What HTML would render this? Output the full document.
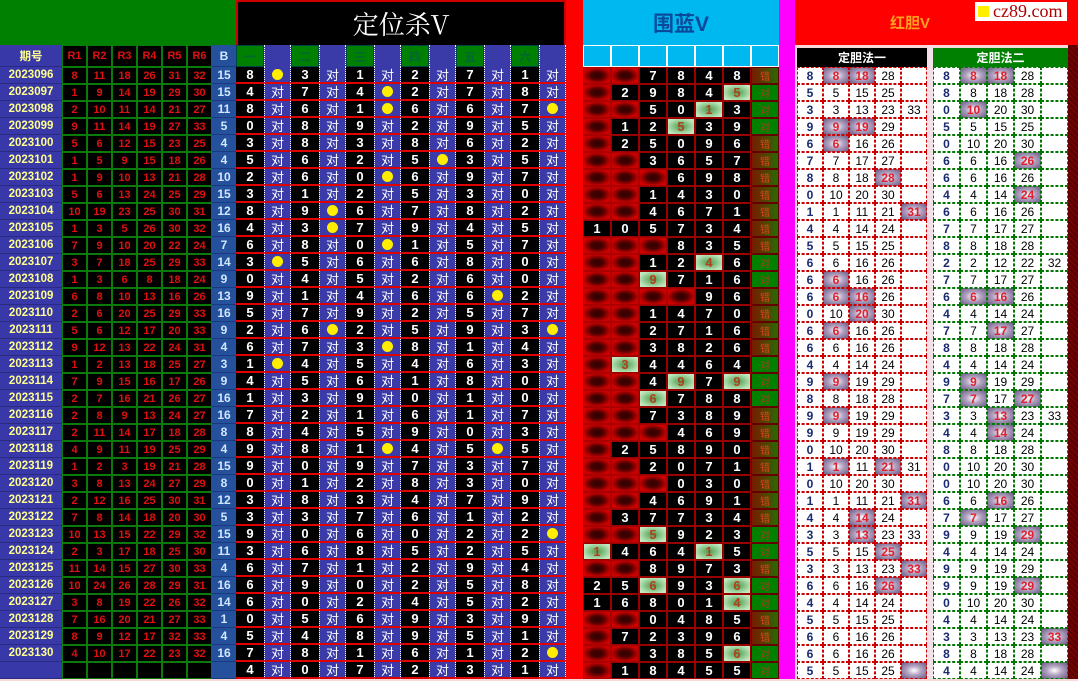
<!DOCTYPE html>
<html><head><meta charset="utf-8"><style>
html,body{margin:0;padding:0;width:1078px;height:681px;overflow:hidden;background:#f8d8d8}
.G{display:grid;grid-template-columns:62px repeat(6,25px) 24px repeat(6,28px 27px) 17px repeat(7,28px) 16px 2px repeat(5,26px) 6px repeat(5,27px) 10px;grid-template-rows:45px 22px repeat(36,17px);width:1078px;height:681px}
i{display:flex;align-items:center;justify-content:center;font-style:normal;box-sizing:border-box;overflow:hidden;font:bold 12px "Liberation Sans","Noto Sans CJK SC",sans-serif;white-space:nowrap}
.q{background:#3838a8;color:#ffff90;font-size:11.5px;border-bottom:1px solid #2a2a80}
.r{background:#000;color:#e01010;border:1px solid #0a7a0a;font-size:11px}
.b{background:#24509c;color:#d0e8ff;font-size:12px;border-bottom:1px solid #1a3a80}
.d{background:#000;color:#fff;border-bottom:2px solid #e00000;font-size:13px}
.t{background:#3a3aa8;color:#fff;font-weight:normal;border-bottom:2px solid #e00000;border-left:1px dotted #fff;border-right:1px dotted #fff;font-size:13px}
.o{background:#3a3aa8;border-bottom:2px solid #e00000;border-left:1px dotted #fff;border-right:1px dotted #fff}
.o:after{content:"";width:11px;height:11px;border-radius:50%;background:#ffee00}
.x{background:#f00}
.w{background:radial-gradient(ellipse at center,#300 0,#400 30%,#c00 75%);border:1px solid #a00}
.n{background:#000;color:#fff;border:1px solid #900;font-size:13px}
.g{background:radial-gradient(ellipse at center,#4a9a4a 0,#bfe8bf 80%);color:#b04020;border:1px solid #900;font-size:13px}
.v{background:#008000;color:#c03020;font-weight:normal;font-size:10px;border:1px solid #600}
.u{background:#802000;color:#e04020;font-weight:normal;font-size:10px;border:1px solid #600;background:linear-gradient(90deg,#7a1a00,#2a6a00)}
.m{background:#ff00ff}
.s{background:#f0d0e0}
.p{background:#fff;color:#1a2a70;border:1px dashed #c00;font-size:12px}
.c{background:#fff;color:#000;font-weight:normal;border:1px dashed #c00;font-size:12px}
.h{background:radial-gradient(ellipse at center,#fff 0,#b0a0c0 45%,#7a6a90 90%);color:#e02030;border:1px dashed #c00}
.P{background:#fff;color:#1a2a70;border:1px dashed #070;font-size:12px}
.C{background:#fff;color:#000;font-weight:normal;border:1px dashed #070;font-size:12px}
.H{background:radial-gradient(ellipse at center,#fff 0,#b0a0c0 45%,#7a6a90 90%);color:#e02030;border:1px dashed #070}
.e{background:#f4e0e8}
.z{background:repeating-linear-gradient(45deg,#700 0 2px,#500 2px 4px)}
.k1{background:#008000;color:#063;border:1px solid #044}
.k2{background:#3a3aa8;border-left:1px dotted #fff;border-right:1px dotted #fff}
.cy{background:#00b8f0;border:1px solid #fff}
.logo{position:absolute;left:975px;top:2px;width:92px;height:19px;background:#fff;display:flex;align-items:center;font:18px "Liberation Serif",serif;color:#b00000}
.logo span{display:inline-block;width:11px;height:11px;background:#ffee00;margin:0 4px 0 3px}
</style></head><body>
<div class="G">
<i style="grid-column:1/9;background:#008000"></i>
<i style="grid-column:9/21;background:#000;color:#fff;font:26px 'Noto Serif CJK SC','Liberation Serif',serif;border:2px solid #c00;border-bottom:0">定位杀V</i>
<i class="x"></i>
<i style="grid-column:22/29;background:#00b8f0;color:#0a4a9a;font-size:21px">围蓝V</i>
<i class="m"></i>
<i style="grid-column:30/43;background:#f00;color:#ffa020;font-size:15px;padding-left:20px;justify-content:flex-start;padding-left:95px">红胆V</i>

<i class="q">期号</i><i class="r">R1</i><i class="r">R2</i><i class="r">R3</i><i class="r">R4</i><i class="r">R5</i><i class="r">R6</i><i class="b">B</i>
<i class="k1">一</i><i class="k2"></i><i class="k1">二</i><i class="k2"></i><i class="k1">三</i><i class="k2"></i><i class="k1">四</i><i class="k2"></i><i class="k1">五</i><i class="k2"></i><i class="k1">六</i><i class="k2"></i>
<i class="x"></i><i class="cy"></i><i class="cy"></i><i class="cy"></i><i class="cy"></i><i class="cy"></i><i class="cy"></i><i class="cy"></i><i class="m"></i><i class="s"></i>
<i style="grid-column:31/36;background:#000;color:#fff;font-size:12px;margin-top:3px">定胆法一</i><i class="e"></i>
<i style="grid-column:37/42;background:#008000;color:#fff;font-size:12px;margin-top:3px">定胆法二</i><i class="z"></i>

<i class="q">2023096</i><i class="r">8</i><i class="r">11</i><i class="r">18</i><i class="r">26</i><i class="r">31</i><i class="r">32</i><i class="b">15</i><i class="d">8</i><i class="o"></i><i class="d">3</i><i class="t">对</i><i class="d">1</i><i class="t">对</i><i class="d">2</i><i class="t">对</i><i class="d">7</i><i class="t">对</i><i class="d">1</i><i class="t">对</i><i class="x"></i><i class="w"></i><i class="w"></i><i class="n">7</i><i class="n">8</i><i class="n">4</i><i class="n">8</i><i class="u">错</i><i class="m"></i><i class="s"></i><i class="p">8</i><i class="h">8</i><i class="h">18</i><i class="c">28</i><i class="c"></i><i class="e"></i><i class="P">8</i><i class="H">8</i><i class="H">18</i><i class="C">28</i><i class="C"></i><i class="z"></i>
<i class="q">2023097</i><i class="r">1</i><i class="r">9</i><i class="r">14</i><i class="r">19</i><i class="r">29</i><i class="r">30</i><i class="b">15</i><i class="d">4</i><i class="t">对</i><i class="d">7</i><i class="t">对</i><i class="d">4</i><i class="o"></i><i class="d">2</i><i class="t">对</i><i class="d">7</i><i class="t">对</i><i class="d">8</i><i class="t">对</i><i class="x"></i><i class="w"></i><i class="n">2</i><i class="n">9</i><i class="n">8</i><i class="n">4</i><i class="g">5</i><i class="v">对</i><i class="m"></i><i class="s"></i><i class="p">5</i><i class="c">5</i><i class="c">15</i><i class="c">25</i><i class="c"></i><i class="e"></i><i class="P">8</i><i class="C">8</i><i class="C">18</i><i class="C">28</i><i class="C"></i><i class="z"></i>
<i class="q">2023098</i><i class="r">2</i><i class="r">10</i><i class="r">11</i><i class="r">14</i><i class="r">21</i><i class="r">27</i><i class="b">11</i><i class="d">8</i><i class="t">对</i><i class="d">6</i><i class="t">对</i><i class="d">1</i><i class="o"></i><i class="d">6</i><i class="t">对</i><i class="d">6</i><i class="t">对</i><i class="d">7</i><i class="o"></i><i class="x"></i><i class="w"></i><i class="w"></i><i class="n">5</i><i class="n">0</i><i class="g">1</i><i class="n">3</i><i class="v">对</i><i class="m"></i><i class="s"></i><i class="p">3</i><i class="c">3</i><i class="c">13</i><i class="c">23</i><i class="c">33</i><i class="e"></i><i class="P">0</i><i class="H">10</i><i class="C">20</i><i class="C">30</i><i class="C"></i><i class="z"></i>
<i class="q">2023099</i><i class="r">9</i><i class="r">11</i><i class="r">14</i><i class="r">19</i><i class="r">27</i><i class="r">33</i><i class="b">5</i><i class="d">0</i><i class="t">对</i><i class="d">8</i><i class="t">对</i><i class="d">9</i><i class="t">对</i><i class="d">2</i><i class="t">对</i><i class="d">9</i><i class="t">对</i><i class="d">5</i><i class="t">对</i><i class="x"></i><i class="w"></i><i class="n">1</i><i class="n">2</i><i class="g">5</i><i class="n">3</i><i class="n">9</i><i class="v">对</i><i class="m"></i><i class="s"></i><i class="p">9</i><i class="h">9</i><i class="h">19</i><i class="c">29</i><i class="c"></i><i class="e"></i><i class="P">5</i><i class="C">5</i><i class="C">15</i><i class="C">25</i><i class="C"></i><i class="z"></i>
<i class="q">2023100</i><i class="r">5</i><i class="r">6</i><i class="r">12</i><i class="r">15</i><i class="r">23</i><i class="r">25</i><i class="b">4</i><i class="d">3</i><i class="t">对</i><i class="d">8</i><i class="t">对</i><i class="d">3</i><i class="t">对</i><i class="d">8</i><i class="t">对</i><i class="d">6</i><i class="t">对</i><i class="d">2</i><i class="t">对</i><i class="x"></i><i class="w"></i><i class="n">2</i><i class="n">5</i><i class="n">0</i><i class="n">9</i><i class="n">6</i><i class="u">错</i><i class="m"></i><i class="s"></i><i class="p">6</i><i class="h">6</i><i class="c">16</i><i class="c">26</i><i class="c"></i><i class="e"></i><i class="P">0</i><i class="C">10</i><i class="C">20</i><i class="C">30</i><i class="C"></i><i class="z"></i>
<i class="q">2023101</i><i class="r">1</i><i class="r">5</i><i class="r">9</i><i class="r">15</i><i class="r">18</i><i class="r">26</i><i class="b">4</i><i class="d">5</i><i class="t">对</i><i class="d">6</i><i class="t">对</i><i class="d">2</i><i class="t">对</i><i class="d">5</i><i class="o"></i><i class="d">3</i><i class="t">对</i><i class="d">5</i><i class="t">对</i><i class="x"></i><i class="w"></i><i class="w"></i><i class="n">3</i><i class="n">6</i><i class="n">5</i><i class="n">7</i><i class="u">错</i><i class="m"></i><i class="s"></i><i class="p">7</i><i class="c">7</i><i class="c">17</i><i class="c">27</i><i class="c"></i><i class="e"></i><i class="P">6</i><i class="C">6</i><i class="C">16</i><i class="H">26</i><i class="C"></i><i class="z"></i>
<i class="q">2023102</i><i class="r">1</i><i class="r">9</i><i class="r">10</i><i class="r">13</i><i class="r">21</i><i class="r">28</i><i class="b">10</i><i class="d">2</i><i class="t">对</i><i class="d">6</i><i class="t">对</i><i class="d">0</i><i class="o"></i><i class="d">6</i><i class="t">对</i><i class="d">9</i><i class="t">对</i><i class="d">7</i><i class="t">对</i><i class="x"></i><i class="w"></i><i class="w"></i><i class="w"></i><i class="n">6</i><i class="n">9</i><i class="n">8</i><i class="u">错</i><i class="m"></i><i class="s"></i><i class="p">8</i><i class="c">8</i><i class="c">18</i><i class="h">28</i><i class="c"></i><i class="e"></i><i class="P">6</i><i class="C">6</i><i class="C">16</i><i class="C">26</i><i class="C"></i><i class="z"></i>
<i class="q">2023103</i><i class="r">5</i><i class="r">6</i><i class="r">13</i><i class="r">24</i><i class="r">25</i><i class="r">29</i><i class="b">15</i><i class="d">3</i><i class="t">对</i><i class="d">1</i><i class="t">对</i><i class="d">2</i><i class="t">对</i><i class="d">5</i><i class="t">对</i><i class="d">3</i><i class="t">对</i><i class="d">0</i><i class="t">对</i><i class="x"></i><i class="w"></i><i class="w"></i><i class="n">1</i><i class="n">4</i><i class="n">3</i><i class="n">0</i><i class="u">错</i><i class="m"></i><i class="s"></i><i class="p">0</i><i class="c">10</i><i class="c">20</i><i class="c">30</i><i class="c"></i><i class="e"></i><i class="P">4</i><i class="C">4</i><i class="C">14</i><i class="H">24</i><i class="C"></i><i class="z"></i>
<i class="q">2023104</i><i class="r">10</i><i class="r">19</i><i class="r">23</i><i class="r">25</i><i class="r">30</i><i class="r">31</i><i class="b">12</i><i class="d">8</i><i class="t">对</i><i class="d">9</i><i class="o"></i><i class="d">6</i><i class="t">对</i><i class="d">7</i><i class="t">对</i><i class="d">8</i><i class="t">对</i><i class="d">2</i><i class="t">对</i><i class="x"></i><i class="w"></i><i class="w"></i><i class="n">4</i><i class="n">6</i><i class="n">7</i><i class="n">1</i><i class="u">错</i><i class="m"></i><i class="s"></i><i class="p">1</i><i class="c">1</i><i class="c">11</i><i class="c">21</i><i class="h">31</i><i class="e"></i><i class="P">6</i><i class="C">6</i><i class="C">16</i><i class="C">26</i><i class="C"></i><i class="z"></i>
<i class="q">2023105</i><i class="r">1</i><i class="r">3</i><i class="r">5</i><i class="r">26</i><i class="r">30</i><i class="r">32</i><i class="b">16</i><i class="d">4</i><i class="t">对</i><i class="d">3</i><i class="o"></i><i class="d">7</i><i class="t">对</i><i class="d">9</i><i class="t">对</i><i class="d">4</i><i class="t">对</i><i class="d">5</i><i class="t">对</i><i class="x"></i><i class="n">1</i><i class="n">0</i><i class="n">5</i><i class="n">7</i><i class="n">3</i><i class="n">4</i><i class="u">错</i><i class="m"></i><i class="s"></i><i class="p">4</i><i class="c">4</i><i class="c">14</i><i class="c">24</i><i class="c"></i><i class="e"></i><i class="P">7</i><i class="C">7</i><i class="C">17</i><i class="C">27</i><i class="C"></i><i class="z"></i>
<i class="q">2023106</i><i class="r">7</i><i class="r">9</i><i class="r">10</i><i class="r">20</i><i class="r">22</i><i class="r">24</i><i class="b">7</i><i class="d">6</i><i class="t">对</i><i class="d">8</i><i class="t">对</i><i class="d">0</i><i class="o"></i><i class="d">1</i><i class="t">对</i><i class="d">5</i><i class="t">对</i><i class="d">7</i><i class="t">对</i><i class="x"></i><i class="w"></i><i class="w"></i><i class="w"></i><i class="n">8</i><i class="n">3</i><i class="n">5</i><i class="u">错</i><i class="m"></i><i class="s"></i><i class="p">5</i><i class="c">5</i><i class="c">15</i><i class="c">25</i><i class="c"></i><i class="e"></i><i class="P">8</i><i class="C">8</i><i class="C">18</i><i class="C">28</i><i class="C"></i><i class="z"></i>
<i class="q">2023107</i><i class="r">3</i><i class="r">7</i><i class="r">18</i><i class="r">25</i><i class="r">29</i><i class="r">33</i><i class="b">14</i><i class="d">3</i><i class="o"></i><i class="d">5</i><i class="t">对</i><i class="d">6</i><i class="t">对</i><i class="d">6</i><i class="t">对</i><i class="d">8</i><i class="t">对</i><i class="d">0</i><i class="t">对</i><i class="x"></i><i class="w"></i><i class="w"></i><i class="n">1</i><i class="n">2</i><i class="g">4</i><i class="n">6</i><i class="v">对</i><i class="m"></i><i class="s"></i><i class="p">6</i><i class="c">6</i><i class="c">16</i><i class="c">26</i><i class="c"></i><i class="e"></i><i class="P">2</i><i class="C">2</i><i class="C">12</i><i class="C">22</i><i class="C">32</i><i class="z"></i>
<i class="q">2023108</i><i class="r">1</i><i class="r">3</i><i class="r">6</i><i class="r">8</i><i class="r">18</i><i class="r">24</i><i class="b">9</i><i class="d">0</i><i class="t">对</i><i class="d">4</i><i class="t">对</i><i class="d">5</i><i class="t">对</i><i class="d">2</i><i class="t">对</i><i class="d">6</i><i class="t">对</i><i class="d">0</i><i class="t">对</i><i class="x"></i><i class="w"></i><i class="w"></i><i class="g">9</i><i class="n">7</i><i class="n">1</i><i class="n">6</i><i class="v">对</i><i class="m"></i><i class="s"></i><i class="p">6</i><i class="h">6</i><i class="c">16</i><i class="c">26</i><i class="c"></i><i class="e"></i><i class="P">7</i><i class="C">7</i><i class="C">17</i><i class="C">27</i><i class="C"></i><i class="z"></i>
<i class="q">2023109</i><i class="r">6</i><i class="r">8</i><i class="r">10</i><i class="r">13</i><i class="r">16</i><i class="r">26</i><i class="b">13</i><i class="d">9</i><i class="t">对</i><i class="d">1</i><i class="t">对</i><i class="d">4</i><i class="t">对</i><i class="d">6</i><i class="t">对</i><i class="d">6</i><i class="o"></i><i class="d">2</i><i class="t">对</i><i class="x"></i><i class="w"></i><i class="w"></i><i class="w"></i><i class="w"></i><i class="n">9</i><i class="n">6</i><i class="u">错</i><i class="m"></i><i class="s"></i><i class="p">6</i><i class="h">6</i><i class="h">16</i><i class="c">26</i><i class="c"></i><i class="e"></i><i class="P">6</i><i class="H">6</i><i class="H">16</i><i class="C">26</i><i class="C"></i><i class="z"></i>
<i class="q">2023110</i><i class="r">2</i><i class="r">6</i><i class="r">20</i><i class="r">25</i><i class="r">29</i><i class="r">33</i><i class="b">16</i><i class="d">5</i><i class="t">对</i><i class="d">7</i><i class="t">对</i><i class="d">9</i><i class="t">对</i><i class="d">2</i><i class="t">对</i><i class="d">5</i><i class="t">对</i><i class="d">7</i><i class="t">对</i><i class="x"></i><i class="w"></i><i class="w"></i><i class="n">1</i><i class="n">4</i><i class="n">7</i><i class="n">0</i><i class="u">错</i><i class="m"></i><i class="s"></i><i class="p">0</i><i class="c">10</i><i class="h">20</i><i class="c">30</i><i class="c"></i><i class="e"></i><i class="P">4</i><i class="C">4</i><i class="C">14</i><i class="C">24</i><i class="C"></i><i class="z"></i>
<i class="q">2023111</i><i class="r">5</i><i class="r">6</i><i class="r">12</i><i class="r">17</i><i class="r">20</i><i class="r">33</i><i class="b">9</i><i class="d">2</i><i class="t">对</i><i class="d">6</i><i class="o"></i><i class="d">2</i><i class="t">对</i><i class="d">5</i><i class="t">对</i><i class="d">9</i><i class="t">对</i><i class="d">3</i><i class="o"></i><i class="x"></i><i class="w"></i><i class="w"></i><i class="n">2</i><i class="n">7</i><i class="n">1</i><i class="n">6</i><i class="u">错</i><i class="m"></i><i class="s"></i><i class="p">6</i><i class="h">6</i><i class="c">16</i><i class="c">26</i><i class="c"></i><i class="e"></i><i class="P">7</i><i class="C">7</i><i class="H">17</i><i class="C">27</i><i class="C"></i><i class="z"></i>
<i class="q">2023112</i><i class="r">9</i><i class="r">12</i><i class="r">13</i><i class="r">22</i><i class="r">24</i><i class="r">31</i><i class="b">4</i><i class="d">6</i><i class="t">对</i><i class="d">7</i><i class="t">对</i><i class="d">3</i><i class="o"></i><i class="d">8</i><i class="t">对</i><i class="d">1</i><i class="t">对</i><i class="d">4</i><i class="t">对</i><i class="x"></i><i class="w"></i><i class="w"></i><i class="n">3</i><i class="n">8</i><i class="n">2</i><i class="n">6</i><i class="u">错</i><i class="m"></i><i class="s"></i><i class="p">6</i><i class="c">6</i><i class="c">16</i><i class="c">26</i><i class="c"></i><i class="e"></i><i class="P">8</i><i class="C">8</i><i class="C">18</i><i class="C">28</i><i class="C"></i><i class="z"></i>
<i class="q">2023113</i><i class="r">1</i><i class="r">2</i><i class="r">13</i><i class="r">18</i><i class="r">25</i><i class="r">27</i><i class="b">3</i><i class="d">1</i><i class="o"></i><i class="d">4</i><i class="t">对</i><i class="d">5</i><i class="t">对</i><i class="d">4</i><i class="t">对</i><i class="d">6</i><i class="t">对</i><i class="d">3</i><i class="t">对</i><i class="x"></i><i class="w"></i><i class="g">3</i><i class="n">4</i><i class="n">4</i><i class="n">6</i><i class="n">4</i><i class="v">对</i><i class="m"></i><i class="s"></i><i class="p">4</i><i class="c">4</i><i class="c">14</i><i class="c">24</i><i class="c"></i><i class="e"></i><i class="P">4</i><i class="C">4</i><i class="C">14</i><i class="C">24</i><i class="C"></i><i class="z"></i>
<i class="q">2023114</i><i class="r">7</i><i class="r">9</i><i class="r">15</i><i class="r">16</i><i class="r">17</i><i class="r">26</i><i class="b">9</i><i class="d">4</i><i class="t">对</i><i class="d">5</i><i class="t">对</i><i class="d">6</i><i class="t">对</i><i class="d">1</i><i class="t">对</i><i class="d">8</i><i class="t">对</i><i class="d">0</i><i class="t">对</i><i class="x"></i><i class="w"></i><i class="w"></i><i class="n">4</i><i class="g">9</i><i class="n">7</i><i class="g">9</i><i class="v">对</i><i class="m"></i><i class="s"></i><i class="p">9</i><i class="h">9</i><i class="c">19</i><i class="c">29</i><i class="c"></i><i class="e"></i><i class="P">9</i><i class="H">9</i><i class="C">19</i><i class="C">29</i><i class="C"></i><i class="z"></i>
<i class="q">2023115</i><i class="r">2</i><i class="r">7</i><i class="r">16</i><i class="r">21</i><i class="r">26</i><i class="r">27</i><i class="b">16</i><i class="d">1</i><i class="t">对</i><i class="d">3</i><i class="t">对</i><i class="d">9</i><i class="t">对</i><i class="d">0</i><i class="t">对</i><i class="d">1</i><i class="t">对</i><i class="d">0</i><i class="t">对</i><i class="x"></i><i class="w"></i><i class="w"></i><i class="g">6</i><i class="n">7</i><i class="n">8</i><i class="n">8</i><i class="v">对</i><i class="m"></i><i class="s"></i><i class="p">8</i><i class="c">8</i><i class="c">18</i><i class="c">28</i><i class="c"></i><i class="e"></i><i class="P">7</i><i class="H">7</i><i class="C">17</i><i class="H">27</i><i class="C"></i><i class="z"></i>
<i class="q">2023116</i><i class="r">2</i><i class="r">8</i><i class="r">9</i><i class="r">13</i><i class="r">24</i><i class="r">27</i><i class="b">16</i><i class="d">7</i><i class="t">对</i><i class="d">2</i><i class="t">对</i><i class="d">1</i><i class="t">对</i><i class="d">6</i><i class="t">对</i><i class="d">1</i><i class="t">对</i><i class="d">7</i><i class="t">对</i><i class="x"></i><i class="w"></i><i class="w"></i><i class="n">7</i><i class="n">3</i><i class="n">8</i><i class="n">9</i><i class="u">错</i><i class="m"></i><i class="s"></i><i class="p">9</i><i class="h">9</i><i class="c">19</i><i class="c">29</i><i class="c"></i><i class="e"></i><i class="P">3</i><i class="C">3</i><i class="H">13</i><i class="C">23</i><i class="C">33</i><i class="z"></i>
<i class="q">2023117</i><i class="r">2</i><i class="r">11</i><i class="r">14</i><i class="r">17</i><i class="r">18</i><i class="r">28</i><i class="b">8</i><i class="d">8</i><i class="t">对</i><i class="d">4</i><i class="t">对</i><i class="d">5</i><i class="t">对</i><i class="d">9</i><i class="t">对</i><i class="d">0</i><i class="t">对</i><i class="d">3</i><i class="t">对</i><i class="x"></i><i class="w"></i><i class="w"></i><i class="w"></i><i class="n">4</i><i class="n">6</i><i class="n">9</i><i class="u">错</i><i class="m"></i><i class="s"></i><i class="p">9</i><i class="c">9</i><i class="c">19</i><i class="c">29</i><i class="c"></i><i class="e"></i><i class="P">4</i><i class="C">4</i><i class="H">14</i><i class="C">24</i><i class="C"></i><i class="z"></i>
<i class="q">2023118</i><i class="r">4</i><i class="r">9</i><i class="r">11</i><i class="r">19</i><i class="r">25</i><i class="r">29</i><i class="b">4</i><i class="d">9</i><i class="t">对</i><i class="d">8</i><i class="t">对</i><i class="d">1</i><i class="o"></i><i class="d">4</i><i class="t">对</i><i class="d">5</i><i class="o"></i><i class="d">5</i><i class="t">对</i><i class="x"></i><i class="w"></i><i class="n">2</i><i class="n">5</i><i class="n">8</i><i class="n">9</i><i class="n">0</i><i class="u">错</i><i class="m"></i><i class="s"></i><i class="p">0</i><i class="c">10</i><i class="c">20</i><i class="c">30</i><i class="c"></i><i class="e"></i><i class="P">8</i><i class="C">8</i><i class="C">18</i><i class="C">28</i><i class="C"></i><i class="z"></i>
<i class="q">2023119</i><i class="r">1</i><i class="r">2</i><i class="r">3</i><i class="r">19</i><i class="r">21</i><i class="r">28</i><i class="b">15</i><i class="d">9</i><i class="t">对</i><i class="d">0</i><i class="t">对</i><i class="d">9</i><i class="t">对</i><i class="d">7</i><i class="t">对</i><i class="d">3</i><i class="t">对</i><i class="d">7</i><i class="t">对</i><i class="x"></i><i class="w"></i><i class="w"></i><i class="n">2</i><i class="n">0</i><i class="n">7</i><i class="n">1</i><i class="u">错</i><i class="m"></i><i class="s"></i><i class="p">1</i><i class="h">1</i><i class="c">11</i><i class="h">21</i><i class="c">31</i><i class="e"></i><i class="P">0</i><i class="C">10</i><i class="C">20</i><i class="C">30</i><i class="C"></i><i class="z"></i>
<i class="q">2023120</i><i class="r">3</i><i class="r">8</i><i class="r">13</i><i class="r">24</i><i class="r">27</i><i class="r">29</i><i class="b">8</i><i class="d">0</i><i class="t">对</i><i class="d">1</i><i class="t">对</i><i class="d">2</i><i class="t">对</i><i class="d">8</i><i class="t">对</i><i class="d">3</i><i class="t">对</i><i class="d">0</i><i class="t">对</i><i class="x"></i><i class="w"></i><i class="w"></i><i class="w"></i><i class="n">0</i><i class="n">3</i><i class="n">0</i><i class="u">错</i><i class="m"></i><i class="s"></i><i class="p">0</i><i class="c">10</i><i class="c">20</i><i class="c">30</i><i class="c"></i><i class="e"></i><i class="P">0</i><i class="C">10</i><i class="C">20</i><i class="C">30</i><i class="C"></i><i class="z"></i>
<i class="q">2023121</i><i class="r">2</i><i class="r">12</i><i class="r">16</i><i class="r">25</i><i class="r">30</i><i class="r">31</i><i class="b">12</i><i class="d">3</i><i class="t">对</i><i class="d">8</i><i class="t">对</i><i class="d">3</i><i class="t">对</i><i class="d">4</i><i class="t">对</i><i class="d">7</i><i class="t">对</i><i class="d">9</i><i class="t">对</i><i class="x"></i><i class="w"></i><i class="w"></i><i class="n">4</i><i class="n">6</i><i class="n">9</i><i class="n">1</i><i class="u">错</i><i class="m"></i><i class="s"></i><i class="p">1</i><i class="c">1</i><i class="c">11</i><i class="c">21</i><i class="h">31</i><i class="e"></i><i class="P">6</i><i class="C">6</i><i class="H">16</i><i class="C">26</i><i class="C"></i><i class="z"></i>
<i class="q">2023122</i><i class="r">7</i><i class="r">8</i><i class="r">14</i><i class="r">18</i><i class="r">20</i><i class="r">30</i><i class="b">5</i><i class="d">3</i><i class="t">对</i><i class="d">3</i><i class="t">对</i><i class="d">7</i><i class="t">对</i><i class="d">6</i><i class="t">对</i><i class="d">1</i><i class="t">对</i><i class="d">2</i><i class="t">对</i><i class="x"></i><i class="w"></i><i class="n">3</i><i class="n">7</i><i class="n">7</i><i class="n">3</i><i class="n">4</i><i class="u">错</i><i class="m"></i><i class="s"></i><i class="p">4</i><i class="c">4</i><i class="h">14</i><i class="c">24</i><i class="c"></i><i class="e"></i><i class="P">7</i><i class="H">7</i><i class="C">17</i><i class="C">27</i><i class="C"></i><i class="z"></i>
<i class="q">2023123</i><i class="r">10</i><i class="r">13</i><i class="r">15</i><i class="r">22</i><i class="r">29</i><i class="r">32</i><i class="b">15</i><i class="d">9</i><i class="t">对</i><i class="d">0</i><i class="t">对</i><i class="d">6</i><i class="t">对</i><i class="d">0</i><i class="t">对</i><i class="d">2</i><i class="t">对</i><i class="d">2</i><i class="o"></i><i class="x"></i><i class="w"></i><i class="w"></i><i class="g">5</i><i class="n">9</i><i class="n">2</i><i class="n">3</i><i class="v">对</i><i class="m"></i><i class="s"></i><i class="p">3</i><i class="c">3</i><i class="h">13</i><i class="c">23</i><i class="c">33</i><i class="e"></i><i class="P">9</i><i class="C">9</i><i class="C">19</i><i class="H">29</i><i class="C"></i><i class="z"></i>
<i class="q">2023124</i><i class="r">2</i><i class="r">3</i><i class="r">17</i><i class="r">18</i><i class="r">25</i><i class="r">30</i><i class="b">11</i><i class="d">3</i><i class="t">对</i><i class="d">6</i><i class="t">对</i><i class="d">8</i><i class="t">对</i><i class="d">5</i><i class="t">对</i><i class="d">2</i><i class="t">对</i><i class="d">5</i><i class="t">对</i><i class="x"></i><i class="g">1</i><i class="n">4</i><i class="n">6</i><i class="n">4</i><i class="g">1</i><i class="n">5</i><i class="v">对</i><i class="m"></i><i class="s"></i><i class="p">5</i><i class="c">5</i><i class="c">15</i><i class="h">25</i><i class="c"></i><i class="e"></i><i class="P">4</i><i class="C">4</i><i class="C">14</i><i class="C">24</i><i class="C"></i><i class="z"></i>
<i class="q">2023125</i><i class="r">11</i><i class="r">14</i><i class="r">15</i><i class="r">27</i><i class="r">30</i><i class="r">33</i><i class="b">4</i><i class="d">6</i><i class="t">对</i><i class="d">7</i><i class="t">对</i><i class="d">1</i><i class="t">对</i><i class="d">2</i><i class="t">对</i><i class="d">9</i><i class="t">对</i><i class="d">4</i><i class="t">对</i><i class="x"></i><i class="w"></i><i class="w"></i><i class="n">8</i><i class="n">9</i><i class="n">7</i><i class="n">3</i><i class="u">错</i><i class="m"></i><i class="s"></i><i class="p">3</i><i class="c">3</i><i class="c">13</i><i class="c">23</i><i class="h">33</i><i class="e"></i><i class="P">9</i><i class="C">9</i><i class="C">19</i><i class="C">29</i><i class="C"></i><i class="z"></i>
<i class="q">2023126</i><i class="r">10</i><i class="r">24</i><i class="r">26</i><i class="r">28</i><i class="r">29</i><i class="r">31</i><i class="b">16</i><i class="d">6</i><i class="t">对</i><i class="d">9</i><i class="t">对</i><i class="d">0</i><i class="t">对</i><i class="d">2</i><i class="t">对</i><i class="d">5</i><i class="t">对</i><i class="d">8</i><i class="t">对</i><i class="x"></i><i class="n">2</i><i class="n">5</i><i class="g">6</i><i class="n">9</i><i class="n">3</i><i class="g">6</i><i class="v">对</i><i class="m"></i><i class="s"></i><i class="p">6</i><i class="c">6</i><i class="c">16</i><i class="h">26</i><i class="c"></i><i class="e"></i><i class="P">9</i><i class="C">9</i><i class="C">19</i><i class="H">29</i><i class="C"></i><i class="z"></i>
<i class="q">2023127</i><i class="r">3</i><i class="r">8</i><i class="r">19</i><i class="r">22</i><i class="r">26</i><i class="r">32</i><i class="b">14</i><i class="d">6</i><i class="t">对</i><i class="d">0</i><i class="t">对</i><i class="d">2</i><i class="t">对</i><i class="d">4</i><i class="t">对</i><i class="d">5</i><i class="t">对</i><i class="d">2</i><i class="t">对</i><i class="x"></i><i class="n">1</i><i class="n">6</i><i class="n">8</i><i class="n">0</i><i class="n">1</i><i class="g">4</i><i class="v">对</i><i class="m"></i><i class="s"></i><i class="p">4</i><i class="c">4</i><i class="c">14</i><i class="c">24</i><i class="c"></i><i class="e"></i><i class="P">0</i><i class="C">10</i><i class="C">20</i><i class="C">30</i><i class="C"></i><i class="z"></i>
<i class="q">2023128</i><i class="r">7</i><i class="r">16</i><i class="r">20</i><i class="r">21</i><i class="r">27</i><i class="r">33</i><i class="b">1</i><i class="d">0</i><i class="t">对</i><i class="d">5</i><i class="t">对</i><i class="d">6</i><i class="t">对</i><i class="d">9</i><i class="t">对</i><i class="d">3</i><i class="t">对</i><i class="d">9</i><i class="t">对</i><i class="x"></i><i class="w"></i><i class="w"></i><i class="n">0</i><i class="n">4</i><i class="n">8</i><i class="n">5</i><i class="u">错</i><i class="m"></i><i class="s"></i><i class="p">5</i><i class="c">5</i><i class="c">15</i><i class="c">25</i><i class="c"></i><i class="e"></i><i class="P">4</i><i class="C">4</i><i class="C">14</i><i class="C">24</i><i class="C"></i><i class="z"></i>
<i class="q">2023129</i><i class="r">8</i><i class="r">9</i><i class="r">12</i><i class="r">17</i><i class="r">32</i><i class="r">33</i><i class="b">4</i><i class="d">5</i><i class="t">对</i><i class="d">4</i><i class="t">对</i><i class="d">8</i><i class="t">对</i><i class="d">9</i><i class="t">对</i><i class="d">5</i><i class="t">对</i><i class="d">1</i><i class="t">对</i><i class="x"></i><i class="w"></i><i class="n">7</i><i class="n">2</i><i class="n">3</i><i class="n">9</i><i class="n">6</i><i class="u">错</i><i class="m"></i><i class="s"></i><i class="p">6</i><i class="c">6</i><i class="c">16</i><i class="c">26</i><i class="c"></i><i class="e"></i><i class="P">3</i><i class="C">3</i><i class="C">13</i><i class="C">23</i><i class="H">33</i><i class="z"></i>
<i class="q">2023130</i><i class="r">4</i><i class="r">10</i><i class="r">17</i><i class="r">22</i><i class="r">23</i><i class="r">32</i><i class="b">16</i><i class="d">7</i><i class="t">对</i><i class="d">8</i><i class="t">对</i><i class="d">1</i><i class="t">对</i><i class="d">6</i><i class="t">对</i><i class="d">1</i><i class="t">对</i><i class="d">2</i><i class="o"></i><i class="x"></i><i class="w"></i><i class="w"></i><i class="n">3</i><i class="n">8</i><i class="n">5</i><i class="g">6</i><i class="v">对</i><i class="m"></i><i class="s"></i><i class="p">6</i><i class="c">6</i><i class="c">16</i><i class="c">26</i><i class="c"></i><i class="e"></i><i class="P">8</i><i class="C">8</i><i class="C">18</i><i class="C">28</i><i class="C"></i><i class="z"></i>
<i class="q"></i><i class="r"></i><i class="r"></i><i class="r"></i><i class="r"></i><i class="r"></i><i class="r"></i><i class="b"></i><i class="d">4</i><i class="t">对</i><i class="d">0</i><i class="t">对</i><i class="d">7</i><i class="t">对</i><i class="d">2</i><i class="t">对</i><i class="d">3</i><i class="t">对</i><i class="d">1</i><i class="t">对</i><i class="x"></i><i class="w"></i><i class="n">1</i><i class="n">8</i><i class="n">4</i><i class="n">5</i><i class="n">5</i><i class="v">对</i><i class="m"></i><i class="s"></i><i class="p">5</i><i class="c">5</i><i class="c">15</i><i class="c">25</i><i class="h"></i><i class="e"></i><i class="P">4</i><i class="C">4</i><i class="C">14</i><i class="C">24</i><i class="H"></i><i class="z"></i>
</div>
<div class="logo"><span></span>cz89.com</div>
</body></html>
